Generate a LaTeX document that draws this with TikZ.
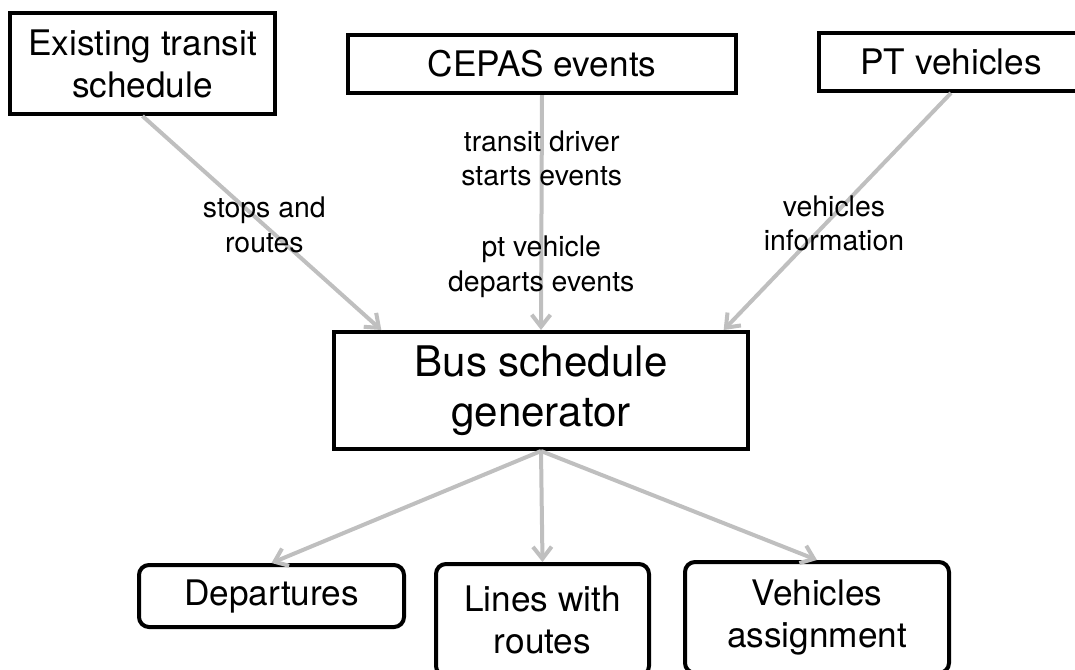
\documentclass[tikz,border=0pt]{standalone}
\usepackage{fontspec}
\setmainfont{TeX Gyre Heros}
\usetikzlibrary{arrows.meta,calc}

\tikzset{
  srcbox/.style={draw, line width=3pt, align=center, inner sep=0pt, font=\fontsize{26.4}{31.5}\selectfont},
  outbox/.style={srcbox, rounded corners=7.5pt},
  flow/.style={draw=black!25, line width=3pt, -{Straight Barb[length=9pt,width=14pt]}},
  flowlabel/.style={text=black, align=center, font=\fontsize{21.3}{26}\selectfont}
}

\begin{document}
\begin{tikzpicture}[x=0.75pt,y=-0.75pt]
  \useasboundingbox (0,0) rectangle (1075,669);

  % Input sources
  \node[srcbox, minimum width=198.75pt, minimum height=75.75pt] (exist) at (142.5,63.5) {Existing transit\\schedule};
  \node[srcbox, minimum width=291pt, minimum height=43.5pt] (cepas) at (542,64) {CEPAS events};
  \node[srcbox, minimum width=198pt, minimum height=43.5pt] (ptveh) at (951,62) {PT vehicles};

  % Generator
  \node[srcbox, minimum width=310.5pt, minimum height=87.75pt, font=\fontsize{31.6}{37.5}\selectfont] (bus) at (541,390.5) {Bus schedule\\generator};

  % Outputs
  \node[outbox, minimum width=198.75pt, minimum height=46.5pt] (dep) at (271.5,596) {Departures};
  \node[outbox, minimum width=159.75pt, minimum height=84pt] (lines) at (542.5,620) {Lines with\\routes};
  \node[outbox, minimum width=198pt, minimum height=83.25pt] (vehass) at (817,617.5) {Vehicles\\assignment};

  % Flows into the generator
  \draw[flow] (exist.south) -- ($(bus.north west)!0.118!(bus.north east)$)
    node[flowlabel, pos=0.51] {stops and\\routes};
  \draw[flow] (cepas.south) -- (bus.north)
    node[flowlabel, pos=0.27] {transit driver\\starts events}
    node[flowlabel, pos=0.73] {pt vehicle\\departs events};
  \draw[flow] (ptveh.south) -- ($(bus.north west)!0.937!(bus.north east)$)
    node[flowlabel, pos=0.55, xshift=6pt] {vehicles\\information};

  % Flows out of the generator
  \draw[flow] (bus.south) -- (dep.north);
  \draw[flow] (bus.south) -- (lines.north);
  \draw[flow] (bus.south) -- (vehass.north);

\end{tikzpicture}
\end{document}
